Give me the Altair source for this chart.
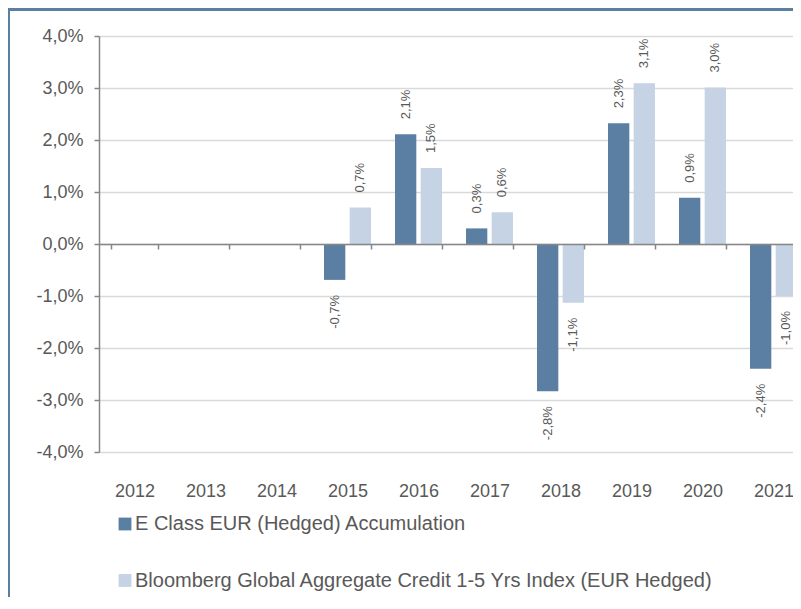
import altair as alt
import pandas as pd

# ---- data ----
years = ["2012", "2013", "2014", "2015", "2016", "2017", "2018", "2019", "2020", "2021"]
series_names = [
    "E Class EUR (Hedged) Accumulation",
    "Bloomberg Global Aggregate Credit 1-5 Yrs Index (EUR Hedged)",
]
fund_values = [None, None, None, -0.69, 2.11, 0.30, -2.83, 2.32, 0.89, -2.40]
index_values = [None, None, None, 0.70, 1.46, 0.61, -1.13, 3.09, 3.01, -1.00]
y_ticks = [-4, -3, -2, -1, 0, 1, 2, 3, 4]

colors = ["#5b7fa3", "#c5d3e4"]
text_gray = "#595959"
axis_gray = "#868686"
grid_gray = "#d9d9d9"

rows = []
for name, vals in zip(series_names, [fund_values, index_values]):
    for yr, v in zip(years, vals):
        if v is not None:
            rows.append({"year": yr, "series": name, "value": v})
df = pd.DataFrame(rows)

label_expr = "replace(replace(format(datum.value, '.1f'), '.', ','), '\u2212', '-') + '%'"

x_enc = alt.X(
    "year:N",
    scale=alt.Scale(domain=years, paddingInner=0.338, paddingOuter=0.169),
    axis=alt.Axis(
        title=None, orient="bottom", offset=-208, labelAngle=0, labelFontSize=18,
        labelColor=text_gray, labelPadding=233, tickBand="extent", tickSize=5,
        tickColor=axis_gray, tickWidth=1.5, domainColor=axis_gray, domainWidth=1.5,
        grid=False, zindex=1, labelFont="Liberation Sans",
    ),
)
xo_enc = alt.XOffset(
    "series:N", scale=alt.Scale(domain=series_names, paddingInner=0.17, paddingOuter=0)
)
y_enc = alt.Y(
    "value:Q",
    scale=alt.Scale(domain=[-4, 4], nice=False, zero=False),
    axis=alt.Axis(
        title=None, values=y_ticks, labelExpr=label_expr, labelFontSize=18,
        labelColor=text_gray, labelPadding=11, tickSize=5, tickColor=axis_gray,
        tickWidth=1.5, domainColor=axis_gray, domainWidth=1.5, gridColor=grid_gray,
        gridWidth=1.5, labelFont="Liberation Sans",
    ),
)

base = alt.Chart(df).transform_calculate(
    label="replace(replace(format(datum.value, '.1f'), '.', ','), '\u2212', '-') + '%'"
)

bars = base.mark_bar().encode(
    x=x_enc,
    xOffset=xo_enc,
    y=y_enc,
    y2=alt.datum(0),
    color=alt.Color(
        "series:N",
        scale=alt.Scale(domain=series_names, range=colors),
        legend=alt.Legend(
            orient="none", legendX=16, legendY=478, direction="vertical", title=None,
            symbolType="square", symbolSize=165, symbolStrokeWidth=0,
            labelFontSize=20, labelColor=text_gray, labelLimit=700, rowPadding=36.5,
            labelOffset=0, labelFont="Liberation Sans",
        ),
    ),
)

pos_text = base.transform_filter("datum.value > 0").mark_text(
    angle=270, align="left", baseline="middle", dx=15, fontSize=13,
    color=text_gray, font="Liberation Sans",
).encode(x=x_enc, xOffset=xo_enc, y=y_enc, text="label:N")

neg_text = base.transform_filter("datum.value < 0").mark_text(
    angle=270, align="right", baseline="middle", dx=-15, fontSize=13,
    color=text_gray, font="Liberation Sans",
).encode(x=x_enc, xOffset=xo_enc, y=y_enc, text="label:N")

deco = alt.Data(values=[{"k": 1}])
top_band = alt.Chart(deco).mark_rule(color="#5b7fa3", strokeWidth=5).encode(
    x=alt.value(-91), x2=alt.value(720), y=alt.value(-27.5)
)
left_line = alt.Chart(deco).mark_rule(color="#5b7fa3", strokeWidth=2).encode(
    x=alt.value(-90), y=alt.value(-26), y2=alt.value(600)
)

chart = alt.layer(bars, pos_text, neg_text, top_band, left_line).properties(
    width=710,
    height=416,
    autosize=alt.AutoSizeParams(type="none"),
    padding={"left": 91, "top": 28, "right": -16, "bottom": 145},
).configure_view(stroke=None).configure(font="Liberation Sans")

chart.save("out.html", embed_options={"renderer": "svg", "actions": False})
